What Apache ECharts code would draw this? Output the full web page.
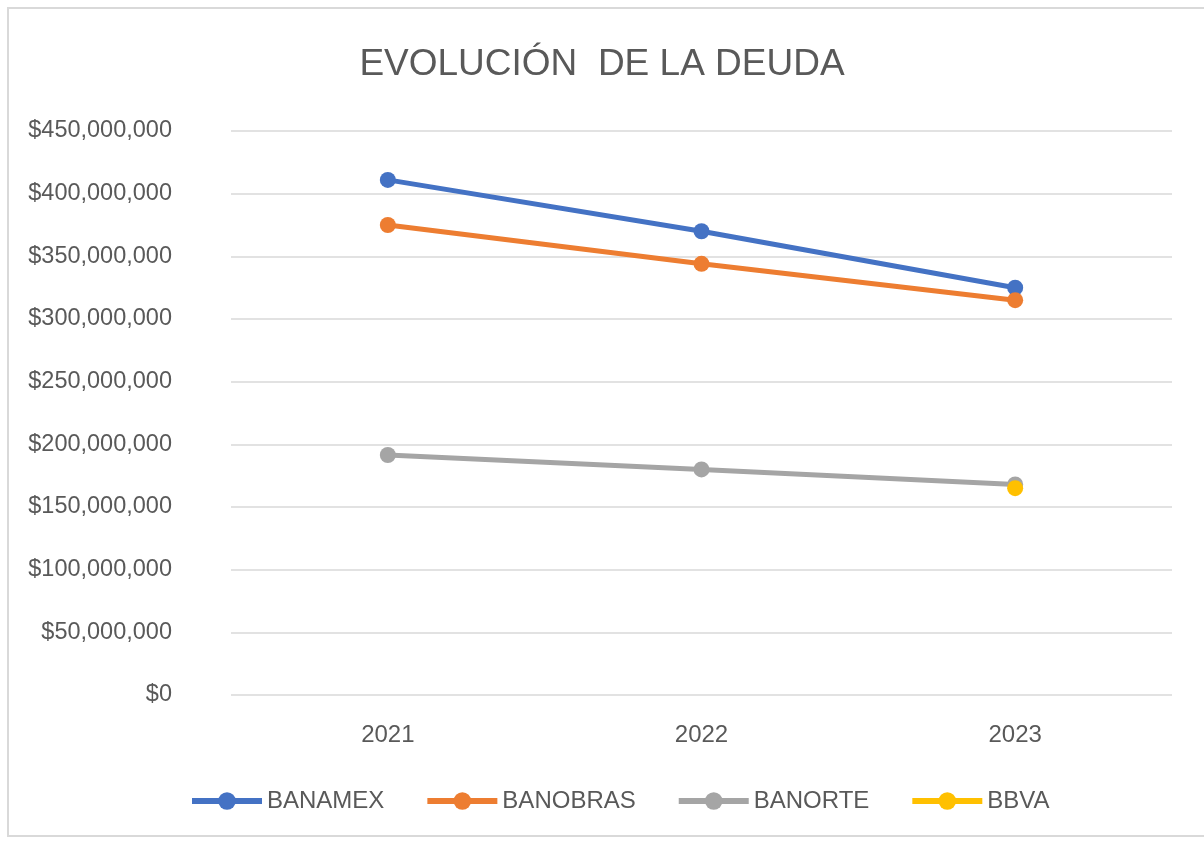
<!DOCTYPE html>
<html>
<head>
<meta charset="utf-8">
<script src="https://cdn.jsdelivr.net/npm/echarts@6/dist/echarts.min.js"></script>
<style>
  html, body { margin: 0; padding: 0; background: #fff; }
  #frame {
    position: absolute; left: 7px; top: 7px; width: 1204px; height: 830px;
    border: 2px solid #d9d9d9; box-sizing: border-box;
  }
  #chart { position: absolute; left: 0; top: 0; width: 1204px; height: 843px; }
</style>
</head>
<body>
<div id="frame"></div>
<div id="chart"></div>
<script>
const years = ["2021", "2022", "2023"];
const banamex = [411000000, 370000000, 325000000];
const banobras = [375000000, 344000000, 315000000];
const banorte = [191500000, 180000000, 168000000];
const bbva = [null, null, 165000000];

const seriesNames = ["BANAMEX", "BANOBRAS", "BANORTE", "BBVA"];
const seriesData = [banamex, banobras, banorte, bbva];
const COLORS = ["#4472C4", "#ED7D31", "#A5A5A5", "#FFC000"];

const FONT = "Liberation Sans";

const chart = echarts.init(document.getElementById("chart"));

chart.setOption({
  backgroundColor: "transparent",
  animation: false,
  title: {
    text: "EVOLUCIÓN  DE LA DEUDA",
    left: "center",
    top: 41,
    textStyle: { fontFamily: FONT, fontSize: 37, fontWeight: "normal", color: "#595959" },
  },
  legend: {
    data: seriesNames,
    bottom: 25,
    left: 184,
    itemWidth: 70,
    itemHeight: 22,
    itemGap: 40,
    lineStyle: { width: 6 },
    textStyle: { fontFamily: FONT, fontSize: 24, color: "#595959" },
  },
  grid: { left: 231, right: 32, top: 131, bottom: 148 },
  xAxis: {
    type: "category",
    data: years,
    boundaryGap: true,
    axisLine: { show: false },
    axisTick: { show: false },
    axisLabel: { fontFamily: FONT, fontSize: 24, color: "#595959", margin: 28 },
  },
  yAxis: {
    type: "value",
    min: 0,
    max: 450000000,
    interval: 50000000,
    axisLine: { show: false },
    axisTick: { show: false },
    splitLine: { lineStyle: { color: "#d9d9d9", width: 1.5 } },
    axisLabel: {
      fontFamily: FONT,
      fontSize: 23.5,
      color: "#595959",
      margin: 59,
      formatter: (v) => "$" + v.toLocaleString("en-US"),
    },
  },
  series: seriesNames.map((name, i) => ({
    name,
    type: "line",
    data: seriesData[i],
    symbol: "circle",
    symbolSize: 16,
    lineStyle: { color: COLORS[i], width: 5 },
    itemStyle: { color: COLORS[i] },
  })),
});
</script>
</body>
</html>
